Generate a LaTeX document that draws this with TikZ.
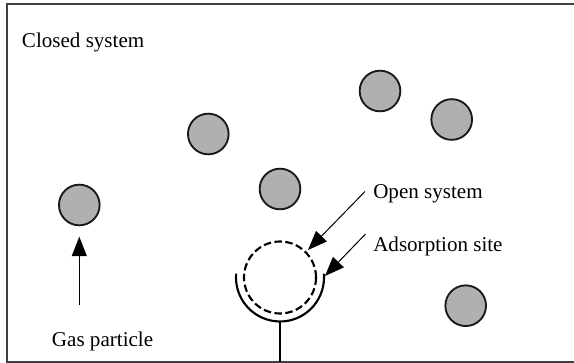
\documentclass[tikz,border=0pt]{standalone}
\usepackage{fontspec}
\setmainfont{Liberation Serif}
\usetikzlibrary{arrows.meta}
\begin{document}
\begin{tikzpicture}[x=0.75pt,y=-0.75pt,
  frameline/.style={draw=black!75,line width=1.5pt},
  particle/.style={circle,draw=black!90,fill=gray!62,line width=1.4pt,minimum size=30.5pt,inner sep=0pt},
  lbl/.style={font=\fontsize{15.8}{18}\selectfont,inner sep=0pt,anchor=base west},
  pointer/.style={-{Triangle[length=14.5pt,width=11.2pt]},line width=0.75pt},
  openline/.style={dash pattern=on 5.6pt off 2.6pt,line width=1.6pt},
  siteline/.style={line width=1.6pt}]
\useasboundingbox (0,0) rectangle (574,363);
% frame (right side lies outside the picture)
\coordinate (ftr) at (574,4.5);
\coordinate (ftl) at (7.3,4.5);
\coordinate (fbl) at (7.3,361.7);
\coordinate (fbr) at (574,361.7);
\draw[frameline] (ftr) -- (ftl) -- (fbl) -- (fbr);
% gas particles
\node[particle] (p1) at (208.3,134) {};
\node[particle] (p2) at (280,189) {};
\node[particle] (p3) at (380,91) {};
\node[particle] (p4) at (451.7,119.5) {};
\node[particle] (p5) at (79.3,205) {};
\node[particle] (p6) at (465.7,305.7) {};
% labels
\node[lbl] (closed) at (21.7,47.5) {Closed system};
\node[lbl] (open) at (373,199) {Open system};
\node[lbl] (ads) at (373,251.5) {Adsorption site};
\node[lbl] (gas) at (51.7,346.5) {Gas particle};
% adsorption site
\coordinate (site) at (280,277.5);
\draw[openline] (site) circle[radius=36];
\draw[siteline] (site) ++(-5:44) arc[start angle=-5,end angle=185,radius=44];
\coordinate (stemtop) at (280,321.5);
\coordinate (stembot) at (280,361.7);
\draw[line width=1pt] (stemtop) -- (stembot);
% pointers
\coordinate (opentail) at (365,191.5);
\coordinate (opentip) at (308,250);
\draw[pointer] (opentail) -- (opentip);
\coordinate (adstail) at (365.5,234);
\coordinate (adstip) at (325,276);
\draw[pointer] (adstail) -- (adstip);
\coordinate (gastail) at (79.3,305);
\coordinate (gastip) at (79.3,236.7);
\draw[pointer] (gastail) -- (gastip);
\end{tikzpicture}
\end{document}
